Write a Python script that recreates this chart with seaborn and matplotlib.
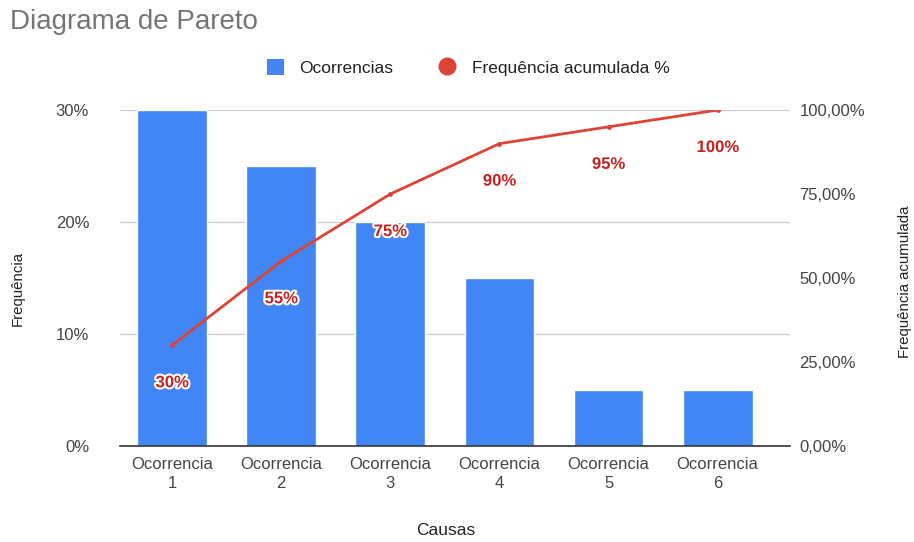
import matplotlib
matplotlib.use("Agg")
import matplotlib.pyplot as plt
import matplotlib.patheffects as pe
from matplotlib.lines import Line2D
from matplotlib.patches import Patch
import seaborn as sns
import pandas as pd

categories = ["Ocorrencia\n1", "Ocorrencia\n2", "Ocorrencia\n3", "Ocorrencia\n4", "Ocorrencia\n5", "Ocorrencia\n6"]
ocorrencias = [30, 25, 20, 15, 5, 5]
acumulada = [30, 55, 75, 90, 95, 100]
left_ticks = [0, 10, 20, 30]
left_labels = ["0%", "10%", "20%", "30%"]
right_ticks = [0, 25, 50, 75, 100]
right_labels = ["0,00%", "25,00%", "50,00%", "75,00%", "100,00%"]

df = pd.DataFrame({"Causas": categories, "Ocorrencias": ocorrencias, "Acumulada": acumulada})

sns.set_theme(style="white")
plt.rcParams["font.family"] = ["Liberation Sans", "DejaVu Sans"]

BLUE = "#4285F4"
RED = "#DB4437"
GREY = "#444444"
FS = 12

fig = plt.figure(figsize=(9.14, 5.42), dpi=100)
ax = fig.add_axes([0.131, 0.177, 0.733, 0.62])

sns.barplot(data=df, x="Causas", y="Ocorrencias", color=BLUE, width=0.64,
            saturation=1, ax=ax, zorder=2)
ax.set_ylim(0, 30)
ax.set_yticks(left_ticks)
ax.set_yticklabels(left_labels, fontsize=FS, color=GREY)
ax.tick_params(axis="x", labelsize=FS, colors=GREY, length=0, pad=8)
for t in ax.get_xticklabels():
    t.set_linespacing(1.35)
ax.tick_params(axis="y", length=0, pad=22)
ax.grid(axis="y", color="#cccccc", linewidth=0.9, zorder=0)
ax.set_axisbelow(True)
for s in ["top", "right", "left"]:
    ax.spines[s].set_visible(False)
ax.spines["bottom"].set_color("#333333")
ax.spines["bottom"].set_linewidth(1.2)
ax.set_xlabel("")
ax.set_ylabel("")
ax.set_xlim(-0.48, 5.66)

ax2 = ax.twinx()
sns.lineplot(x=list(range(len(categories))), y=acumulada, ax=ax2, color=RED,
             linewidth=2, marker="o", markersize=3.5, markeredgewidth=0, zorder=3)
ax2.set_ylim(0, 100)
ax2.set_yticks(right_ticks)
ax2.set_yticklabels(right_labels, fontsize=FS, color=GREY)
ax2.tick_params(axis="y", length=0, pad=7)
for s in ax2.spines.values():
    s.set_visible(False)
ax2.set_ylabel("")
ax2.grid(False)

for i, v in enumerate(acumulada):
    ax2.annotate(f"{v}%", (i, v), xytext=(0, -27), textcoords="offset points",
                 ha="center", va="center", fontsize=FS, fontweight="bold",
                 color="#C5221F", zorder=5,
                 path_effects=[pe.withStroke(linewidth=3, foreground="white")])

fig.text(0.488, 0.022, "Causas", fontsize=12.5, color="#222222", ha="center", va="center")
fig.text(0.0197, 0.467, "Frequência", fontsize=10.8, color="#222222", ha="center", va="center", rotation=90)
fig.text(0.990, 0.480, "Frequência acumulada", fontsize=10.8, color="#222222", ha="center", va="center", rotation=90)

fig.text(0.011, 0.96, "Diagrama de Pareto", fontsize=20, color="#757575", va="center", ha="left")

handles = [Patch(facecolor=BLUE, edgecolor="none"),
           Line2D([0], [0], marker="o", color="none", markerfacecolor=RED, markeredgewidth=0, markersize=13)]
fig.legend(handles, ["Ocorrencias", "Frequência acumulada %"], loc="center",
           bbox_to_anchor=(0.512, 0.875), ncol=2, frameon=False, fontsize=12.5,
           handlelength=1.0, handleheight=1.0, columnspacing=2.6, handletextpad=0.9,
           labelcolor="#222222")

fig.savefig("out.png", dpi=100)
